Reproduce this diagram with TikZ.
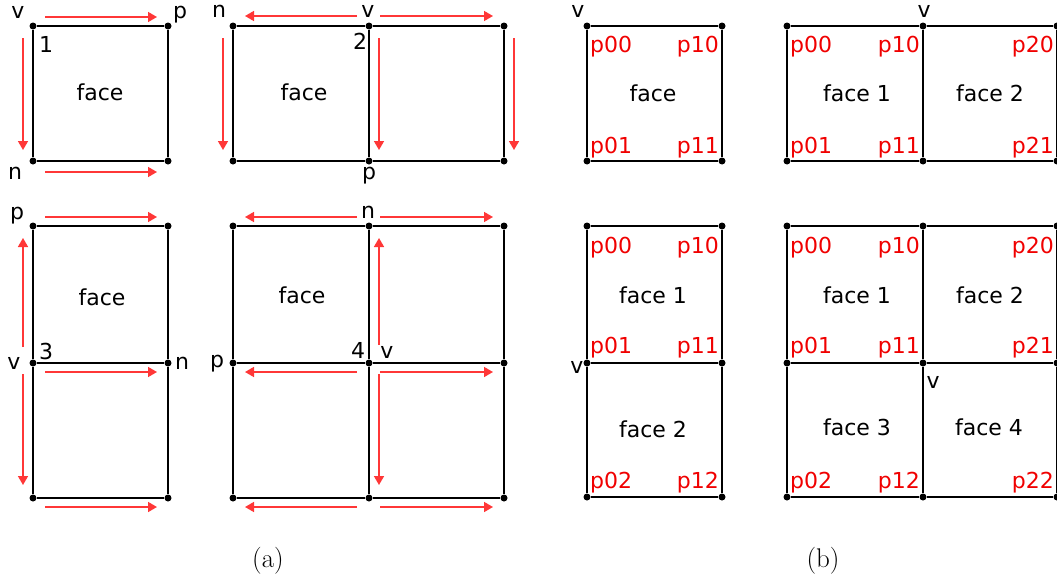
\documentclass[tikz,border=0pt]{standalone}
\usepackage{fontspec}
\newfontfamily\dv{DejaVu Sans}
\usetikzlibrary{arrows.meta}
\definecolor{arr}{RGB}{255,55,55}
\definecolor{lab}{RGB}{240,0,0}
\begin{document}
\begin{tikzpicture}[x=1pt,y=-1pt,
  edge/.style={line width=1.5pt,black},
  vdot/.style={circle,fill=black,inner sep=0pt,minimum size=7pt},
  rarr/.style={arr,line width=1.6pt,-{Triangle[length=9pt,width=10pt]}},
  lbl/.style={font=\dv\fontsize{22}{25}\selectfont,inner sep=0pt},
  plbl/.style={lbl,text=lab},
  captext/.style={font=\fontsize{27}{30}\selectfont,inner sep=0pt}]
\useasboundingbox (0,0) rectangle (1057,581);

% ---------- panel a1 ----------
\foreach \n/\x/\y in {A/33/26,B/168/26,C/33/161,D/168/161}
  \node[vdot] (a1\n) at (\x,\y) {};
\draw[edge] (a1A) -- (a1B) -- (a1D) -- (a1C) -- (a1A);
\node[lbl] (a1v) at (18,12) {v};
\node[lbl] (a1p) at (180,15) {p};
\node[lbl] (a1one) at (46,44) {1};
\node[lbl] (a1n) at (15,173) {n};
\node[lbl] (a1f) at (100,92) {face};
\coordinate (a1t1) at (45,17);  \coordinate (a1t2) at (157,17);
\coordinate (a1l1) at (23,38);  \coordinate (a1l2) at (23,150);
\coordinate (a1b1) at (45,172); \coordinate (a1b2) at (157,172);
\draw[rarr] (a1t1) -- (a1t2);
\draw[rarr] (a1l1) -- (a1l2);
\draw[rarr] (a1b1) -- (a1b2);

% ---------- panel a2 ----------
\foreach \n/\x/\y in {A/233/26,B/369/26,C/504/26,D/233/161,E/369/161,F/504/161}
  \node[vdot] (a2\n) at (\x,\y) {};
\draw[edge] (a2A) -- (a2B) -- (a2C) -- (a2F) -- (a2E) -- (a2D) -- (a2A);
\draw[edge] (a2B) -- (a2E);
\node[lbl] (a2n) at (219,11) {n};
\node[lbl] (a2v) at (368,11) {v};
\node[lbl] (a2two) at (360,41) {2};
\node[lbl] (a2p) at (369,176) {p};
\node[lbl] (a2f) at (304,92) {face};
\coordinate (a2l1) at (357,16); \coordinate (a2l2) at (245,16);
\coordinate (a2r1) at (380,16); \coordinate (a2r2) at (493,16);
\draw[rarr] (a2l1) -- (a2l2);
\draw[rarr] (a2r1) -- (a2r2);
\foreach \x in {223,379,514}{
  \coordinate (a2d1) at (\x,38); \coordinate (a2d2) at (\x,150);
  \draw[rarr] (a2d1) -- (a2d2);}

% ---------- panel a3 ----------
\foreach \n/\x/\y in {A/33/226,B/168/226,C/33/363,D/168/363,E/33/498,F/168/498}
  \node[vdot] (a3\n) at (\x,\y) {};
\draw[edge] (a3A) -- (a3B) -- (a3D) -- (a3F) -- (a3E) -- (a3C) -- (a3A);
\draw[edge] (a3C) -- (a3D);
\node[lbl] (a3p) at (17,216) {p};
\node[lbl] (a3v) at (14,363) {v};
\node[lbl] (a3three) at (46,351) {3};
\node[lbl] (a3n) at (182,363) {n};
\node[lbl] (a3f) at (102,297) {face};
\coordinate (a3t1) at (45,217);  \coordinate (a3t2) at (157,217);
\coordinate (a3m1) at (45,372);  \coordinate (a3m2) at (157,372);
\coordinate (a3b1) at (45,507);  \coordinate (a3b2) at (157,507);
\coordinate (a3u1) at (23,347);  \coordinate (a3u2) at (23,238);
\coordinate (a3d1) at (23,374);  \coordinate (a3d2) at (23,485);
\draw[rarr] (a3t1) -- (a3t2);
\draw[rarr] (a3m1) -- (a3m2);
\draw[rarr] (a3b1) -- (a3b2);
\draw[rarr] (a3u1) -- (a3u2);
\draw[rarr] (a3d1) -- (a3d2);

% ---------- panel a4 ----------
\foreach \n/\x/\y in {A/233/226,B/369/226,C/504/226,D/233/363,E/369/363,F/504/363,G/233/498,H/369/498,I/504/498}
  \node[vdot] (a4\n) at (\x,\y) {};
\draw[edge] (a4A) -- (a4B) -- (a4C) -- (a4F) -- (a4I) -- (a4H) -- (a4G) -- (a4D) -- (a4A);
\draw[edge] (a4B) -- (a4E) -- (a4H);
\draw[edge] (a4D) -- (a4E) -- (a4F);
\node[lbl] (a4n) at (368,212) {n};
\node[lbl] (a4p) at (217,364) {p};
\node[lbl] (a4four) at (358,350) {4};
\node[lbl] (a4v) at (387,352) {v};
\node[lbl] (a4f) at (302,295) {face};
\foreach \y in {217,372,507}{
  \coordinate (a4l1) at (357,\y); \coordinate (a4l2) at (245,\y);
  \coordinate (a4r1) at (380,\y); \coordinate (a4r2) at (493,\y);
  \draw[rarr] (a4l1) -- (a4l2);
  \draw[rarr] (a4r1) -- (a4r2);}
\coordinate (a4u1) at (379,345); \coordinate (a4u2) at (379,238);
\coordinate (a4d1) at (379,374); \coordinate (a4d2) at (379,485);
\draw[rarr] (a4u1) -- (a4u2);
\draw[rarr] (a4d1) -- (a4d2);

% ---------- panel b1 ----------
\foreach \n/\x/\y in {A/587/26,B/722/26,C/587/161,D/722/161}
  \node[vdot] (b1\n) at (\x,\y) {};
\draw[edge] (b1A) -- (b1B) -- (b1D) -- (b1C) -- (b1A);
\node[lbl] (b1v) at (578,11) {v};
\node[lbl] (b1f) at (653,93) {face};
\node[plbl,anchor=west] (b1p00) at (590,47) {p00};
\node[plbl,anchor=east] (b1p10) at (719,47) {p10};
\node[plbl,anchor=west] (b1p01) at (590,148) {p01};
\node[plbl,anchor=east] (b1p11) at (719,148) {p11};

% ---------- panel b2 ----------
\foreach \n/\x/\y in {A/787/26,B/923/26,C/1057/26,D/787/161,E/923/161,F/1057/161}
  \node[vdot] (b2\n) at (\x,\y) {};
\draw[edge] (b2A) -- (b2B) -- (b2C) -- (b2F) -- (b2E) -- (b2D) -- (b2A);
\draw[edge] (b2B) -- (b2E);
\node[lbl] (b2v) at (924,11) {v};
\node[lbl] (b2f1) at (857,93) {face 1};
\node[lbl] (b2f2) at (990,93) {face 2};
\node[plbl,anchor=west] (b2p00) at (790,47) {p00};
\node[plbl,anchor=east] (b2p10) at (920,47) {p10};
\node[plbl,anchor=east] (b2p20) at (1054,47) {p20};
\node[plbl,anchor=west] (b2p01) at (790,148) {p01};
\node[plbl,anchor=east] (b2p11) at (920,148) {p11};
\node[plbl,anchor=east] (b2p21) at (1054,148) {p21};

% ---------- panel b3 ----------
\foreach \n/\x/\y in {A/587/226,B/722/226,C/587/363,D/722/363,E/587/497,F/722/497}
  \node[vdot] (b3\n) at (\x,\y) {};
\draw[edge] (b3A) -- (b3B) -- (b3D) -- (b3F) -- (b3E) -- (b3C) -- (b3A);
\draw[edge] (b3C) -- (b3D);
\node[lbl] (b3v) at (577,367) {v};
\node[lbl] (b3f1) at (653,295) {face 1};
\node[lbl] (b3f2) at (653,429) {face 2};
\node[plbl,anchor=west] (b3p00) at (590,248) {p00};
\node[plbl,anchor=east] (b3p10) at (719,248) {p10};
\node[plbl,anchor=west] (b3p01) at (590,348) {p01};
\node[plbl,anchor=east] (b3p11) at (719,348) {p11};
\node[plbl,anchor=west] (b3p02) at (590,483) {p02};
\node[plbl,anchor=east] (b3p12) at (719,483) {p12};

% ---------- panel b4 ----------
\foreach \n/\x/\y in {A/787/226,B/923/226,C/1057/226,D/787/363,E/923/363,F/1057/363,G/787/497,H/923/497,I/1057/497}
  \node[vdot] (b4\n) at (\x,\y) {};
\draw[edge] (b4A) -- (b4B) -- (b4C) -- (b4F) -- (b4I) -- (b4H) -- (b4G) -- (b4D) -- (b4A);
\draw[edge] (b4B) -- (b4E) -- (b4H);
\draw[edge] (b4D) -- (b4E) -- (b4F);
\node[lbl] (b4v) at (933,382) {v};
\node[lbl] (b4f1) at (857,295) {face 1};
\node[lbl] (b4f2) at (990,295) {face 2};
\node[lbl] (b4f3) at (857,427) {face 3};
\node[lbl] (b4f4) at (989,427) {face 4};
\node[plbl,anchor=west] (b4p00) at (790,248) {p00};
\node[plbl,anchor=east] (b4p10) at (920,248) {p10};
\node[plbl,anchor=east] (b4p20) at (1054,248) {p20};
\node[plbl,anchor=west] (b4p01) at (790,348) {p01};
\node[plbl,anchor=east] (b4p11) at (920,348) {p11};
\node[plbl,anchor=east] (b4p21) at (1054,348) {p21};
\node[plbl,anchor=west] (b4p02) at (790,483) {p02};
\node[plbl,anchor=east] (b4p12) at (920,483) {p12};
\node[plbl,anchor=east] (b4p22) at (1054,483) {p22};

% ---------- captions ----------
\node[captext] (capa) at (268,561) {(a)};
\node[captext] (capb) at (823,561) {(b)};
\end{tikzpicture}
\end{document}
